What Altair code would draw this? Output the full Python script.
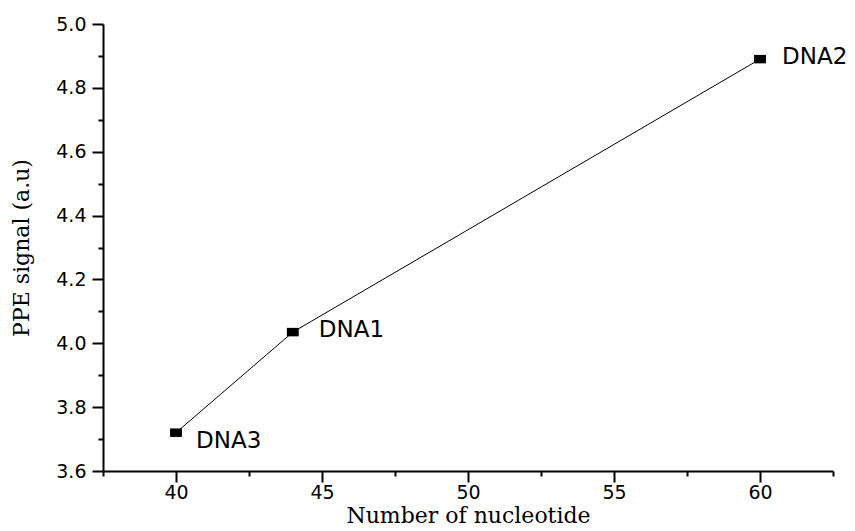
import altair as alt
import pandas as pd

# Measured PPE signal for each DNA strand
nucleotides = [40, 44, 60]
signal = [3.72, 4.035, 4.89]
names = ["DNA3", "DNA1", "DNA2"]

x_major_ticks = [40, 45, 50, 55, 60]
x_minor_ticks = [37.5, 42.5, 47.5, 52.5, 57.5, 62.5]
y_major_ticks = [3.6, 3.8, 4.0, 4.2, 4.4, 4.6, 4.8, 5.0]
y_minor_ticks = [3.7, 3.9, 4.1, 4.3, 4.5, 4.7, 4.9]

df = pd.DataFrame({"n": nucleotides, "s": signal, "name": names})

sans = "DejaVu Sans"
serif = "DejaVu Serif"

common = dict(
    grid=False,
    domainColor="black",
    domainWidth=2,
    tickColor="black",
    tickWidth=2,
)

x_axis = alt.Axis(
    orient="bottom",
    values=x_major_ticks,
    title="Number of nucleotide",
    tickSize=11,
    labelFont=sans,
    labelFontSize=19,
    labelColor="black",
    labelPadding=1,
    titleFont=serif,
    titleFontSize=22,
    titleFontWeight="normal",
    titleColor="black",
    titlePadding=3,
    **common,
)

y_axis = alt.Axis(
    orient="left",
    values=y_major_ticks,
    format=".1f",
    title="PPE signal (a.u)",
    tickSize=11,
    labelFont=sans,
    labelFontSize=19,
    labelColor="black",
    labelPadding=6,
    titleFont=serif,
    titleFontSize=22,
    titleFontWeight="normal",
    titleColor="black",
    titlePadding=22,
    **common,
)

# Minor ticks: unlabeled axes on the same scales
x_minor_axis = alt.Axis(
    orient="bottom", values=x_minor_ticks, tickSize=5, labels=False,
    domain=False, title=None, grid=False, tickColor="black", tickWidth=2,
)
y_minor_axis = alt.Axis(
    orient="left", values=y_minor_ticks, tickSize=5, labels=False,
    domain=False, title=None, grid=False, tickColor="black", tickWidth=2,
)

x_scale = alt.Scale(domain=[37.5, 62.5], nice=False, zero=False)
y_scale = alt.Scale(domain=[3.6, 5.0], nice=False, zero=False)

base = alt.Chart(df)

line = base.mark_line(color="black", strokeWidth=1).encode(
    x=alt.X("n:Q", scale=x_scale, axis=x_axis),
    y=alt.Y("s:Q", scale=y_scale, axis=y_axis),
)

markers = base.mark_point(
    shape="M-1.4,-1H1.4V1H-1.4Z", size=72, filled=True, color="black", opacity=1
).encode(
    x=alt.X("n:Q", scale=x_scale, axis=x_minor_axis),
    y=alt.Y("s:Q", scale=y_scale, axis=y_minor_axis),
)


def name_label(name, dx, dy):
    return base.transform_filter(alt.datum.name == name).mark_text(
        align="left", baseline="middle", dx=dx, dy=dy,
        font=sans, fontSize=23, color="black",
    ).encode(
        x=alt.X("n:Q", axis=None),
        y=alt.Y("s:Q", axis=None),
        text="name:N",
    )


chart = (
    alt.layer(
        line,
        markers,
        name_label("DNA3", 20, 8),
        name_label("DNA1", 26, -2),
        name_label("DNA2", 22, -2),
    )
    .resolve_axis(x="independent", y="independent")
    .properties(
        width=730,
        height=447,
        padding={"left": 103, "top": 24, "right": 22, "bottom": 60},
        autosize=alt.AutoSizeParams(type="none"),
        background="white",
    )
    .configure_view(stroke=None)
)

chart.save("out.html", embed_options={"renderer": "svg", "actions": False})
